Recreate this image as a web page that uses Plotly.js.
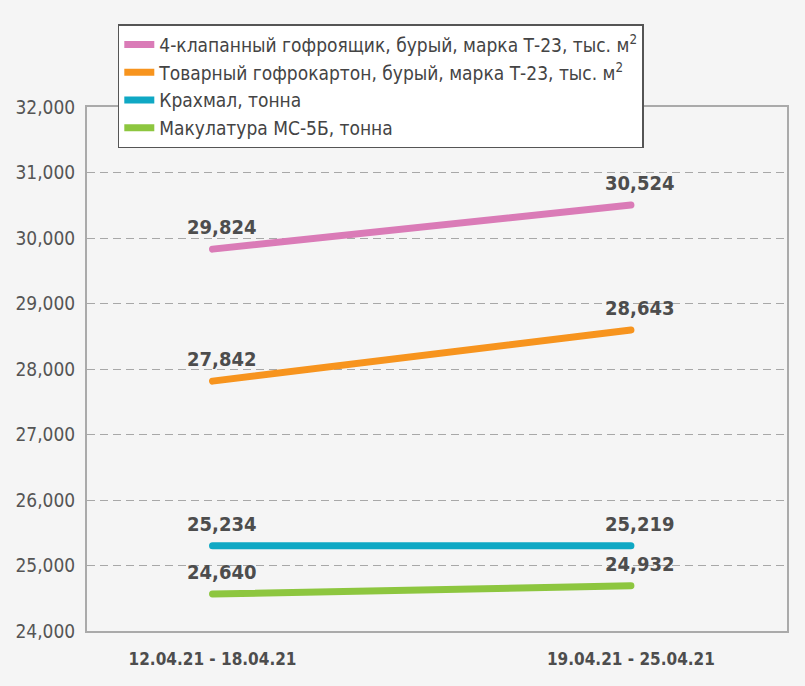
<!DOCTYPE html>
<html>
<head>
<meta charset="utf-8">
<script src="https://cdn.plot.ly/plotly-3.0.1.min.js"></script>
<style>
  html, body { margin: 0; padding: 0; background: #f5f5f5; }
  #plot { width: 805px; height: 686px; }
  #plot .scatterlayer .js-line { stroke-linecap: round; }
</style>
</head>
<body>
<div id="plot"></div>
<script>
// weeks on the x axis
var weeks = ["12.04.21 - 18.04.21", "19.04.21 - 25.04.21"];

// series names
var names = [
  "4-клапанный гофроящик, бурый, марка Т-23, тыс. м<sup>2</sup>",
  "Товарный гофрокартон, бурый, марка Т-23, тыс. м<sup>2</sup>",
  "Крахмал, тонна",
  "Макулатура МС-5Б, тонна"
];

// line positions as drawn in the picture
var boxValues = [29830, 30505];
var sheetValues = [27815, 28595];
var starchValues = [25300, 25300];
var paperValues = [24565, 24690];

// value labels as printed
var boxLabels = ["29,824", "30,524"];
var sheetLabels = ["27,842", "28,643"];
var starchLabels = ["25,234", "25,219"];
var paperLabels = ["24,640", "24,932"];

var colors = ["#da7bb7", "#f7941e", "#0fa8c4", "#8dc63f"];
var font = "'DejaVu Sans Condensed', 'Liberation Sans Narrow', sans-serif";

var series = [
  {y: boxValues, labels: boxLabels},
  {y: sheetValues, labels: sheetLabels},
  {y: starchValues, labels: starchLabels},
  {y: paperValues, labels: paperLabels}
];

var data = [];
var annotations = [];
series.forEach(function (s, i) {
  data.push({
    x: weeks,
    y: s.y,
    type: "scatter",
    mode: "lines",
    name: names[i],
    line: {color: colors[i], width: 7},
    hoverinfo: "skip"
  });
  s.y.forEach(function (v, j) {
    annotations.push({
      x: weeks[j],
      y: v,
      text: "<b>" + s.labels[j] + "</b>",
      showarrow: false,
      xshift: 9,
      yshift: 22,
      font: {family: font, size: 20, color: "#4d4d4d"}
    });
  });
});

var layout = {
  width: 805,
  height: 686,
  paper_bgcolor: "#f5f5f5",
  plot_bgcolor: "#f5f5f5",
  margin: {l: 87, r: 18, t: 107, b: 55},
  font: {family: font, color: "#555555"},
  showlegend: true,
  legend: {
    x: 0.044,
    xanchor: "left",
    y: 1.158,
    yanchor: "top",
    bgcolor: "#ffffff",
    bordercolor: "#555555",
    borderwidth: 1.5,
    font: {family: font, size: 19, color: "#444444"},
    tracegroupgap: 0,
    itemwidth: 30
  },
  xaxis: {
    type: "category",
    range: [-0.3, 1.373],
    showgrid: false,
    zeroline: false,
    showline: true,
    mirror: true,
    linecolor: "#aaaaaa",
    linewidth: 2,
    ticks: "",
    tickfont: {family: font, size: 17, color: "#4d4d4d", weight: "bold"},
    ticklabelstandoff: 12
  },
  yaxis: {
    range: [24000, 32000],
    dtick: 1000,
    tickformat: ",d",
    showgrid: true,
    gridcolor: "#a8a8a8",
    griddash: "8px,5px",
    gridwidth: 1,
    zeroline: false,
    showline: true,
    mirror: true,
    linecolor: "#aaaaaa",
    linewidth: 2,
    ticks: "",
    ticklabelstandoff: 6,
    tickfont: {family: font, size: 19, color: "#555555"}
  },
  annotations: annotations
};

Plotly.newPlot("plot", data, layout, {displayModeBar: false, staticPlot: true});
</script>
</body>
</html>
